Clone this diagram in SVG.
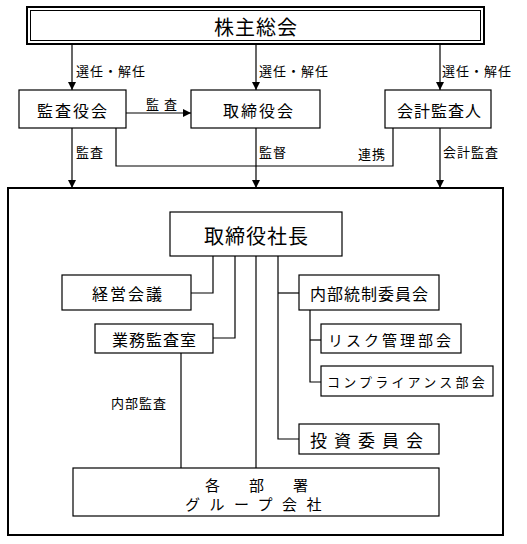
<svg xmlns="http://www.w3.org/2000/svg" width="527" height="544" viewBox="0 0 527 544">
<style>
.b{fill:#fff;stroke:#000;stroke-width:1.2}
.c{fill:none;stroke:#000;stroke-width:1.2}
text{font-family:"Noto Sans CJK JP","Noto Sans",sans-serif;fill:#000;dominant-baseline:central}
.m{text-anchor:middle}
.t16{font-size:16px;letter-spacing:2px}
.t13{font-size:13px;letter-spacing:1px}
</style>
<defs>
<marker id="ah" viewBox="0 0 10 10" refX="10" refY="5" markerWidth="8" markerHeight="8" markerUnits="userSpaceOnUse" orient="auto">
<path d="M0,0 L10,5 L0,10 Z" fill="#000"/>
</marker>
</defs>
<rect width="527" height="544" fill="#fff"/>
<g id="connectors">
<path class="c" d="M72,44 V90" marker-end="url(#ah)"/>
<path class="c" d="M256,44 V90" marker-end="url(#ah)"/>
<path class="c" d="M440,44 V90" marker-end="url(#ah)"/>
<path class="c" d="M126,113 H191" marker-end="url(#ah)"/>
<path class="c" d="M72,128 V188" marker-end="url(#ah)"/>
<path class="c" d="M256,128 V188" marker-end="url(#ah)"/>
<path class="c" d="M440,128 V188" marker-end="url(#ah)"/>
<path class="c" d="M116,128 V166 H393 V128"/>
<path class="c" d="M213,256 V293 H191"/>
<path class="c" d="M235,256 V338 H213"/>
<path class="c" d="M256,256 V468"/>
<path class="c" d="M278,256 V439 H299"/>
<path class="c" d="M278,293 H299"/>
<path class="c" d="M310,310 V382 H321"/>
<path class="c" d="M310,340 H321"/>
<path class="c" d="M181,353 V468"/>
<text class="t13" x="76" y="70">選任・解任</text>
<text class="t13" x="259" y="70">選任・解任</text>
<text class="t13" x="442" y="70">選任・解任</text>
<text class="t13" x="146" y="103" style="letter-spacing:5px">監査</text>
<text class="t13" x="76" y="151">監査</text>
<text class="t13" x="259" y="151">監督</text>
<text class="t13" x="358" y="153">連携</text>
<text class="t13" x="443" y="151">会計監査</text>
<text class="t13" x="111" y="402">内部監査</text>
</g>
<g id="shareholders">
<rect x="27" y="7" width="457" height="37" fill="#fff" stroke="#000" stroke-width="2"/>
<rect x="30.5" y="10.5" width="450" height="30" fill="none" stroke="#000" stroke-width="1"/>
<text class="m" x="256" y="26" style="font-size:20px;letter-spacing:1px">株主総会</text>
</g>
<g id="auditors">
<rect class="b" x="19" y="90" width="107" height="38"/>
<text class="t16" x="37" y="110">監査役会</text>
</g>
<g id="board">
<rect class="b" x="191" y="90" width="129" height="38"/>
<text class="t16" x="223" y="110">取締役会</text>
</g>
<g id="accountant">
<rect class="b" x="385" y="90" width="106" height="38"/>
<text class="t16" x="397" y="110" style="letter-spacing:1px">会計監査人</text>
</g>
<g id="company">
<rect x="8" y="188" width="495" height="347" fill="none" stroke="#000" stroke-width="2"/>
</g>
<g id="president">
<rect class="b" x="170" y="212" width="172" height="44"/>
<text x="204" y="235" style="font-size:20px;letter-spacing:1px">取締役社長</text>
</g>
<g id="management">
<rect class="b" x="62" y="275" width="129" height="35"/>
<text class="t16" x="92" y="293">経営会議</text>
</g>
<g id="internal-audit">
<rect class="b" x="95" y="324" width="118" height="29"/>
<text class="t16" x="112" y="339" style="letter-spacing:1px">業務監査室</text>
</g>
<g id="internal-control">
<rect class="b" x="299" y="275" width="140" height="35"/>
<text class="t16" x="310" y="293" style="letter-spacing:1px">内部統制委員会</text>
</g>
<g id="risk">
<rect class="b" x="321" y="324" width="140" height="29"/>
<text x="328" y="339" style="font-size:15px;letter-spacing:3px">リスク管理部会</text>
</g>
<g id="compliance">
<rect class="b" x="321" y="366" width="172" height="30"/>
<text x="327" y="381" style="font-size:13px;letter-spacing:3.2px">コンプライアンス部会</text>
</g>
<g id="investment">
<rect class="b" x="299" y="424" width="140" height="30"/>
<text x="310" y="439" style="font-size:17px;letter-spacing:7px">投資委員会</text>
</g>
<g id="departments">
<rect class="b" x="73" y="468" width="366" height="48"/>
<text x="205" y="484" style="font-size:15px">各</text>
<text x="249" y="484" style="font-size:15px">部</text>
<text x="293" y="484" style="font-size:15px">署</text>
<text x="185" y="503" style="font-size:15px;letter-spacing:9.5px">グループ会社</text>
</g>
</svg>
